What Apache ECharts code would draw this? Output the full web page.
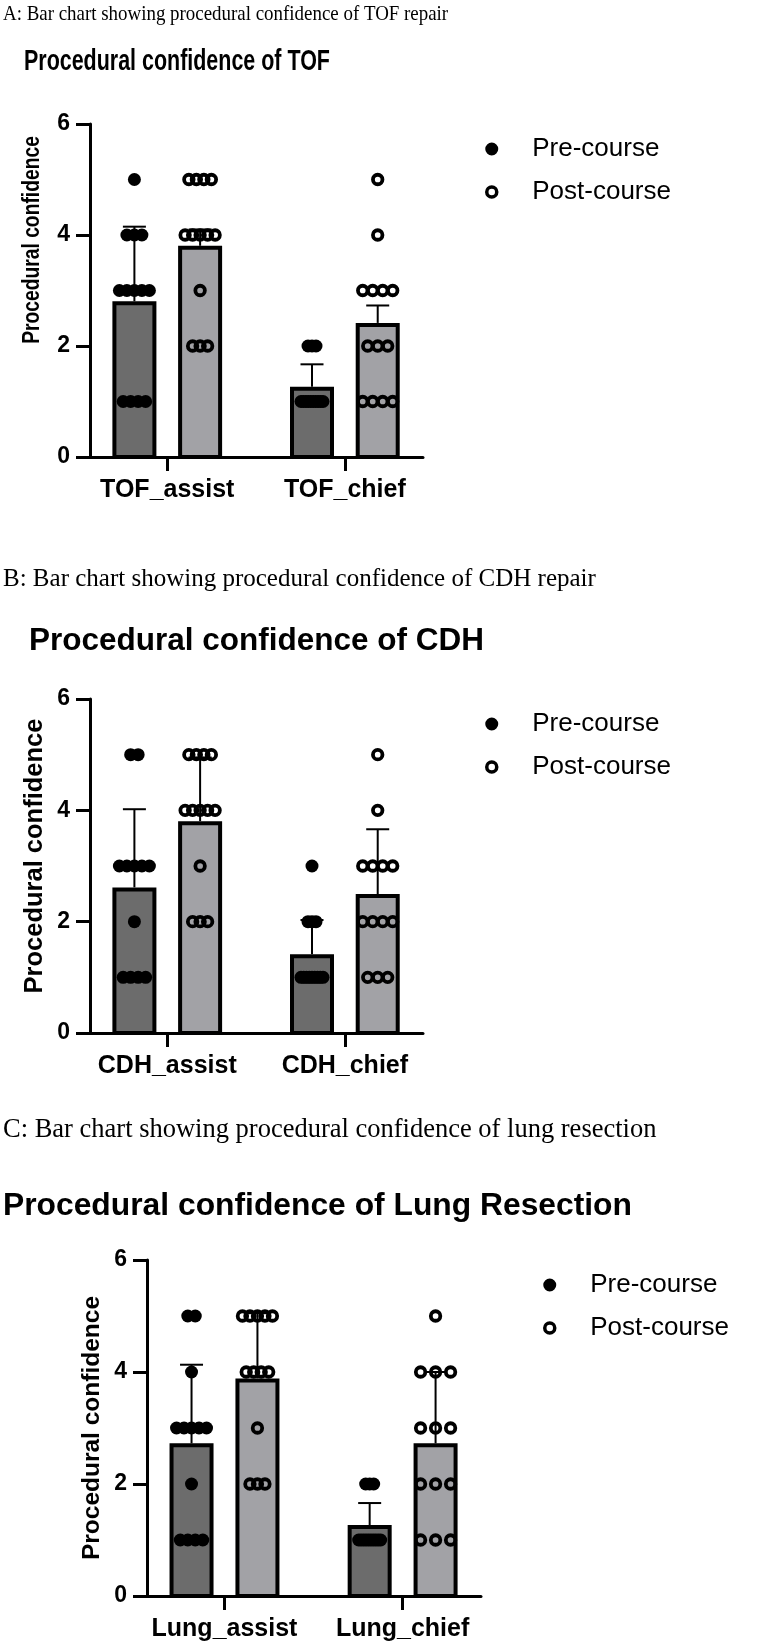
<!DOCTYPE html>
<html><head><meta charset="utf-8">
<script src="https://cdn.jsdelivr.net/npm/echarts@6/dist/echarts.min.js"></script>
<style>html,body{margin:0;padding:0;background:#fff}#c{width:762px;height:1649px}</style>
</head><body><div id="c"></div>
<script>
// ---------- DATA ----------
const seriesNames = ['Pre-course', 'Post-course'];
const categoriesA = ['TOF_assist', 'TOF_chief'];
const categoriesB = ['CDH_assist', 'CDH_chief'];
const categoriesC = ['Lung_assist', 'Lung_chief'];
const yTickValues = [0, 2, 4, 6];

// individual confidence scores
const tofAssistPre  = [5, 4, 4, 4, 3, 3, 3, 3, 3, 1, 1, 1, 1];
const tofAssistPost = [5, 5, 5, 5, 4, 4, 4, 4, 4, 3, 2, 2, 2];
const tofChiefPre   = [2, 2, 2, 1, 1, 1, 1, 1, 1, 1, 1, 1, 1];
const tofChiefPost  = [5, 4, 3, 3, 3, 3, 2, 2, 2, 1, 1, 1, 1];
const cdhAssistPre  = [5, 5, 3, 3, 3, 3, 3, 2, 1, 1, 1, 1];
const cdhAssistPost = [5, 5, 5, 5, 4, 4, 4, 4, 4, 3, 2, 2, 2];
const cdhChiefPre   = [3, 2, 2, 2, 1, 1, 1, 1, 1, 1, 1, 1, 1];
const cdhChiefPost  = [5, 4, 3, 3, 3, 3, 2, 2, 2, 2, 1, 1, 1];
const lungAssistPre  = [5, 5, 4, 3, 3, 3, 3, 3, 2, 1, 1, 1, 1];
const lungAssistPost = [5, 5, 5, 5, 5, 4, 4, 4, 4, 3, 2, 2, 2];
const lungChiefPre   = [2, 2, 2, 1, 1, 1, 1, 1, 1, 1, 1, 1, 1];
const lungChiefPost  = [5, 4, 4, 4, 3, 3, 3, 2, 2, 2, 1, 1, 1];

// bar heights (means) and error-bar tops, per category [assist, chief]
const meanPreA = [2.77, 1.23], meanPostA = [3.77, 2.38];
const errTopPreA = [4.15, 1.67], errTopPostA = [4.10, 2.73];
const meanPreB = [2.58, 1.38], meanPostB = [3.77, 2.46];
const errTopPreB = [4.02, 2.03], errTopPostB = [4.95, 3.66];
const meanPreC = [2.69, 1.23], meanPostC = [3.85, 2.69];
const errTopPreC = [4.13, 1.66], errTopPostC = [5.05, 4.00];

// ---------- STYLE / LAYOUT ----------
const FONT = '"Liberation Sans", Arial, sans-serif';
const SERIF = '"Liberation Serif", "Times New Roman", serif';
const PRE_FILL = '#6c6c6c', POST_FILL = '#a2a2a6';
const SHIFT = 0.185;          // bar offset from category centre (axis units)
const BAR_W = 40;             // px (plus 4px border)
const X_MIN = 0.565, X_MAX = 2.44;

const panels = [
  {cats: categoriesA, pre: [tofAssistPre, tofChiefPre], post: [tofAssistPost, tofChiefPost],
   meanPre: meanPreA, meanPost: meanPostA, errPre: errTopPreA, errPost: errTopPostA,
   grid: {left: 90, top: 124, width: 333, height: 333},
   spacing: {pre: [[7.5, 31], [4, 22]], post: [[7.5, 31], [10, 31]]},
   legend: {left: 480, top: 131}},
  {cats: categoriesB, pre: [cdhAssistPre, cdhChiefPre], post: [cdhAssistPost, cdhChiefPost],
   meanPre: meanPreB, meanPost: meanPostB, errPre: errTopPreB, errPost: errTopPostB,
   grid: {left: 90, top: 699, width: 333, height: 334},
   spacing: {pre: [[7.5, 31], [4, 22]], post: [[7.5, 31], [10, 31]]},
   legend: {left: 480, top: 706}},
  {cats: categoriesC, pre: [lungAssistPre, lungChiefPre], post: [lungAssistPost, lungChiefPost],
   meanPre: meanPreC, meanPost: meanPostC, errPre: errTopPreC, errPost: errTopPostC,
   grid: {left: 147, top: 1260, width: 334, height: 336},
   spacing: {pre: [[7.5, 31], [4, 22]], post: [[7.5, 31], [15, 30]]},
   legend: {left: 538, top: 1267}}
];

function jitter(values, x, step, maxSpread) {
  const counts = {}, seen = {};
  values.forEach(v => { counts[v] = (counts[v] || 0) + 1; });
  return values.map(v => {
    const k = counts[v];
    const i = seen[v] = (seen[v] === undefined ? 0 : seen[v] + 1);
    const spread = Math.min((k - 1) * step, maxSpread);
    const dx = k > 1 ? -spread / 2 + i * spread / (k - 1) : 0;
    return {value: [x, v], symbolOffset: [dx, 0]};
  });
}

const grids = [], xAxes = [], yAxes = [], series = [], legends = [];
panels.forEach((p, k) => {
  grids.push(Object.assign({containLabel: false}, p.grid));
  xAxes.push({
    gridIndex: k, type: 'value', min: X_MIN, max: X_MAX,
    axisLine: {show: true, onZero: false, lineStyle: {color: '#000', width: 3}},
    axisTick: {show: true, customValues: [1, 2], length: 14, lineStyle: {color: '#000', width: 3}},
    axisLabel: {show: true, customValues: [1, 2], formatter: v => p.cats[Math.round(v) - 1] || '',
      fontSize: 25, fontWeight: 'bold', color: '#000', fontFamily: FONT, margin: 21},
    splitLine: {show: false}
  });
  yAxes.push({
    gridIndex: k, type: 'value', min: yTickValues[0], max: yTickValues[yTickValues.length - 1], interval: 2,
    axisLine: {show: true, lineStyle: {color: '#000', width: 3}},
    axisTick: {show: true, length: 14, lineStyle: {color: '#000', width: 3}},
    axisLabel: {fontSize: 23, fontWeight: 'bold', color: '#000', fontFamily: FONT, margin: 20},
    splitLine: {show: false}
  });
  const barData = [];
  const errData = [];
  [0, 1].forEach(c => {
    barData.push({value: [c + 1 - SHIFT, p.meanPre[c]], fill: PRE_FILL});
    barData.push({value: [c + 1 + SHIFT, p.meanPost[c]], fill: POST_FILL});
    errData.push([c + 1 - SHIFT, p.meanPre[c], p.errPre[c]]);
    errData.push([c + 1 + SHIFT, p.meanPost[c], p.errPost[c]]);
  });
  series.push({
    type: 'custom', name: 'bars' + k, xAxisIndex: k, yAxisIndex: k, z: 2, silent: true,
    data: barData.map(d => ({value: d.value, fill: d.fill})),
    renderItem: (params, api) => {
      const x = api.value(0), y = api.value(1);
      const p0 = api.coord([x, 0]), p1 = api.coord([x, y]);
      return {type: 'rect', shape: {x: p0[0] - BAR_W / 2, y: p1[1], width: BAR_W, height: p0[1] - p1[1]},
        style: {fill: barData[params.dataIndex].fill, stroke: '#000', lineWidth: 4}};
    }
  });
  series.push({
    type: 'custom', name: 'err' + k, xAxisIndex: k, yAxisIndex: k, z: 3, silent: true,
    data: errData,
    renderItem: (params, api) => {
      const x = api.value(0);
      const a = api.coord([x, api.value(1)]), b = api.coord([x, api.value(2)]);
      return {type: 'group', children: [
        {type: 'line', shape: {x1: a[0], y1: a[1] - 2, x2: b[0], y2: b[1]}, style: {stroke: '#000', lineWidth: 2}},
        {type: 'line', shape: {x1: b[0] - 11.5, y1: b[1], x2: b[0] + 11.5, y2: b[1]}, style: {stroke: '#000', lineWidth: 2}}
      ]};
    }
  });
  let preDots = [], postDots = [];
  [0, 1].forEach(c => {
    preDots = preDots.concat(jitter(p.pre[c], c + 1 - SHIFT, p.spacing.pre[c][0], p.spacing.pre[c][1]));
    postDots = postDots.concat(jitter(p.post[c], c + 1 + SHIFT, p.spacing.post[c][0], p.spacing.post[c][1]));
  });
  series.push({
    type: 'scatter', name: seriesNames[0], xAxisIndex: k, yAxisIndex: k, z: 5, silent: true,
    symbol: 'circle', symbolSize: 13, itemStyle: {color: '#000', opacity: 1}, data: preDots
  });
  series.push({
    type: 'scatter', name: seriesNames[1], xAxisIndex: k, yAxisIndex: k, z: 5, silent: true,
    symbol: 'circle', symbolSize: 9.5,
    itemStyle: {color: 'rgba(0,0,0,0)', borderColor: '#000', borderWidth: 3.8, opacity: 1}, data: postDots
  });
  legends.push({
    left: p.legend.left, top: p.legend.top, orient: 'vertical', itemWidth: 71, itemHeight: 10, itemGap: 17,
    selectedMode: false, icon: 'circle',
    textStyle: {fontSize: 26, color: '#000', fontFamily: FONT},
    data: [
      {name: seriesNames[0], icon: 'circle', itemStyle: {color: '#000', borderColor: '#000', borderWidth: 3}},
      {name: seriesNames[1], icon: 'circle', itemStyle: {color: '#fff', borderColor: '#000', borderWidth: 3.5}}
    ]
  });
});

function txt(x, y, text, font, opts) {
  return Object.assign({type: 'text', x: x, y: y, silent: true,
    style: Object.assign({text: text, fill: '#000', align: 'left', verticalAlign: 'middle'}, font)}, opts || {});
}
const graphics = [
  txt(3, 14, 'A: Bar chart showing procedural confidence of TOF repair', {fontSize: 22, fontFamily: SERIF}, {scaleX: 0.86}),
  txt(24, 62, 'Procedural confidence of TOF', {fontSize: 30, fontWeight: 'bold', fontFamily: FONT}, {scaleX: 0.715}),
  txt(33, 240, 'Procedural confidence', {fontSize: 23.5, fontWeight: 'bold', fontFamily: FONT, align: 'center'}, {rotation: Math.PI / 2, scaleX: 0.82}),
  txt(3, 579, 'B: Bar chart showing procedural confidence of CDH repair', {fontSize: 25, fontFamily: SERIF}),
  txt(29, 641, 'Procedural confidence of CDH', {fontSize: 31.5, fontWeight: 'bold', fontFamily: FONT}),
  txt(35, 856, 'Procedural confidence', {fontSize: 25.5, fontWeight: 'bold', fontFamily: FONT, align: 'center'}, {rotation: Math.PI / 2}),
  txt(3, 1130, 'C: Bar chart showing procedural confidence of lung resection', {fontSize: 26.5, fontFamily: SERIF}),
  txt(3, 1206, 'Procedural confidence of Lung Resection', {fontSize: 31.8, fontWeight: 'bold', fontFamily: FONT}),
  txt(92, 1428, 'Procedural confidence', {fontSize: 24.5, fontWeight: 'bold', fontFamily: FONT, align: 'center'}, {rotation: Math.PI / 2})
];

const chart = echarts.init(document.getElementById('c'), null, {renderer: 'canvas'});
chart.setOption({
  backgroundColor: '#fff', animation: false,
  grid: grids, xAxis: xAxes, yAxis: yAxes, series: series, legend: legends, graphic: graphics
});
</script></body></html>
